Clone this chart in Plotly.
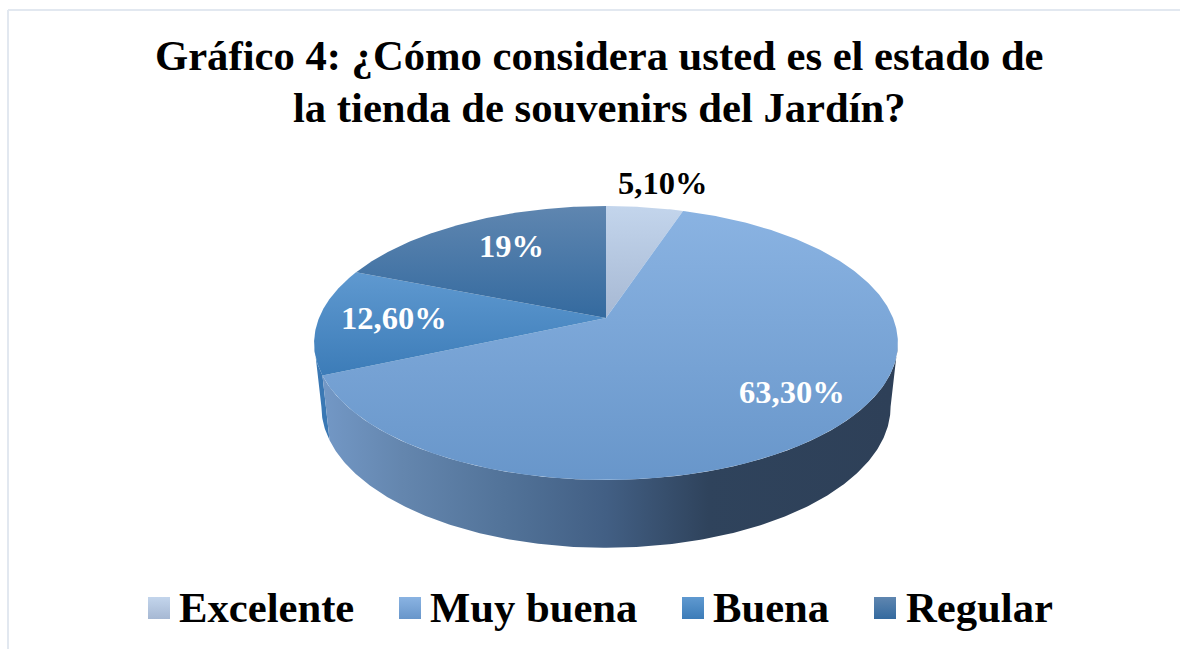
import numpy as np
import plotly.graph_objects as go

categories = ["Excelente", "Muy buena", "Buena", "Regular"]
values = [5.10, 63.30, 12.60, 19.0]
value_labels = ["5,10%", "63,30%", "12,60%", "19%"]
title_lines = ["Gráfico 4: ¿Cómo considera usted es el estado de", "la tienda de souvenirs del Jardín?"]

top_gradients = [("#c3d5ec", "#a6b8d3"), ("#8ab3e2", "#6896ca"), ("#5f99d0", "#3c7cb8"), ("#5f86b0", "#346a9f")]
label_colors = ["black", "white", "white", "white"]
label_pos = [(662, 183), (792, 392), (394, 318), (511, 246)]
swatch_x = [148, 399, 682, 874]
text_x = [177, 428, 711, 904]

SERIF = "Liberation Serif"
CX, CY, RX, RY, K = 606, 318, 287, 132.4, -0.1825
BX, BY, BXS, BYS = 606, 381, 0.975, 1.03


def rim(a0, a1, bottom=False):
    t = np.radians(np.linspace(a0, a1, max(int(abs(a1 - a0) * 2), 2)))
    u, v = np.sin(t), -np.cos(t)
    d = 1 + K * v
    x, y = RX * u / d, RY * v / d
    if bottom:
        return BX + BXS * x, BY + BYS * y
    return CX + x, CY + y


fig = go.Figure()
edges = np.cumsum([0] + values) / sum(values) * 360
right_ext = np.degrees(np.arccos(K))
left_ext = 360 - right_ext

# side walls
x1, y1 = rim(edges[2], left_ext)
x2, y2 = rim(left_ext, edges[2], True)
fig.add_trace(go.Scatter(x=np.r_[x1, x2], y=np.r_[y1, y2], mode="lines", fill="toself",
                         line=dict(width=0), fillcolor="#3a78b4", hoverinfo="skip", showlegend=False))
x1, y1 = rim(right_ext, edges[2])
x2, y2 = rim(edges[2], right_ext, True)
fig.add_trace(go.Scatter(x=np.r_[x1, x2], y=np.r_[y1, y2], mode="lines", line=dict(width=0), fill="toself",
                         fillgradient=dict(type="horizontal", start=322, stop=890,
                                           colorscale=[[0, "#7398c6"], [0.14, "#6486ae"], [0.32, "#527399"],
                                                       [0.5, "#425f84"], [0.68, "#2f435c"], [1, "#2e4058"]]),
                         hoverinfo="skip", showlegend=False))

# top faces
for i, name in enumerate(categories):
    x, y = rim(edges[i], edges[i + 1])
    c0, c1 = top_gradients[i]
    ystart, ystop = y.min(), y.max()
    fig.add_trace(go.Scatter(x=np.r_[CX, x, CX], y=np.r_[CY, y, CY], mode="lines", line=dict(width=0),
                             fill="toself", name=name,
                             fillgradient=dict(type="vertical", start=min(ystart, CY), stop=max(ystop, CY),
                                               colorscale=[[0, c0], [1, c1]]),
                             hoverinfo="name", showlegend=False))

annotations = []
for t, c, (lx, ly) in zip(value_labels, label_colors, label_pos):
    annotations.append(dict(x=lx, y=ly, text=f"<b>{t}</b>", showarrow=False, xanchor="center", yanchor="middle",
                            font=dict(family=SERIF, size=32.5, color=c)))
for line, yc in zip(title_lines, [55, 107]):
    annotations.append(dict(x=599, y=yc, text=f"<b>{line}</b>", showarrow=False, xanchor="center", yanchor="middle",
                            font=dict(family=SERIF, size=42.67, color="black")))

# legend
for i, name in enumerate(categories):
    sx = swatch_x[i]
    c0, c1 = top_gradients[i]
    fig.add_trace(go.Scatter(x=[sx, sx + 22, sx + 22, sx, sx], y=[597, 597, 619, 619, 597], mode="lines",
                             line=dict(width=0), fill="toself",
                             fillgradient=dict(type="vertical", start=597, stop=619, colorscale=[[0, c0], [1, c1]]),
                             hoverinfo="skip", showlegend=False))
    annotations.append(dict(x=text_x[i], y=607, text=f"<b>{name}</b>", showarrow=False, xanchor="left", yanchor="middle",
                            font=dict(family=SERIF, size=42.67, color="black")))

border = dict(color="#e2e8f0", width=2)
shapes = [dict(type="line", x0=8, x1=1180, y0=10, y1=10, line=border),
          dict(type="line", x0=8, x1=8, y0=10, y1=649, line=border)]

fig.update_layout(width=1180, height=649, margin=dict(l=0, r=0, t=0, b=0), paper_bgcolor="white", plot_bgcolor="white",
                  xaxis=dict(range=[0, 1180], visible=False, fixedrange=True),
                  yaxis=dict(range=[649, 0], visible=False, fixedrange=True),
                  annotations=annotations, shapes=shapes, showlegend=False)
fig.write_html("out.html", config=dict(displayModeBar=False),
               post_script="document.body.style.margin='0';document.documentElement.style.overflow='hidden';")
